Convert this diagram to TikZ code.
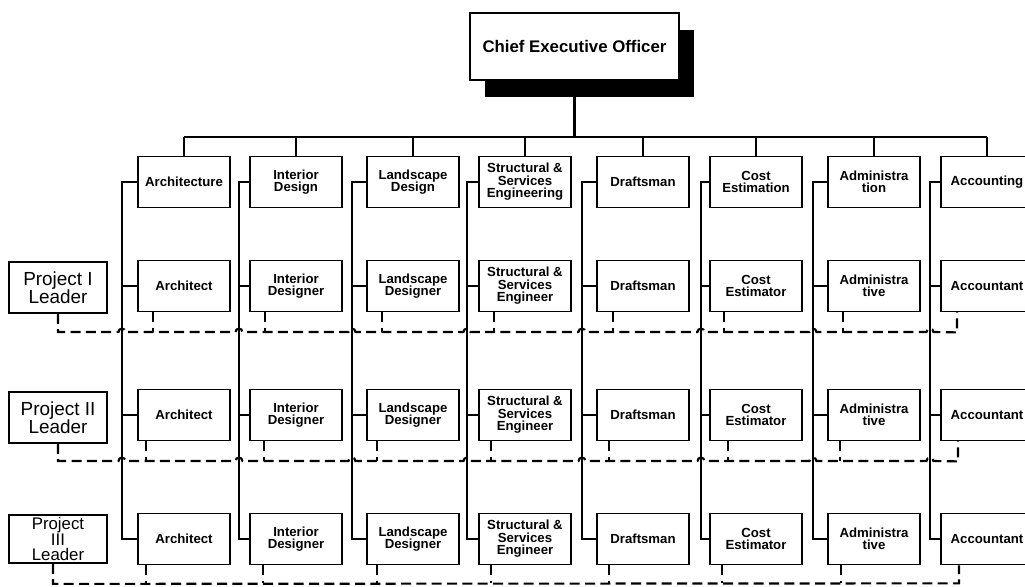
\documentclass[tikz,border=0pt]{standalone}
\usepackage{fontspec}
\setmainfont{Liberation Sans}
\usetikzlibrary{calc,shadows}
\newcommand\tightlines{\lineskiplimit=-100pt\relax}
\newcommand\boxfont{\fontsize{9.9}{9.4}\selectfont\bfseries\tightlines}
\newcommand\leadfont{\fontsize{14.2}{13.6}\selectfont\tightlines}
\newcommand\leadfontc{\fontsize{12.6}{11.4}\selectfont\tightlines}
\begin{document}
\begin{tikzpicture}[x=0.75pt,y=-0.75pt,
  box/.style={draw, line width=1.3pt, fill=white, minimum width=69pt, minimum height=38.25pt,
    inner sep=1pt, align=center, font=\boxfont},
  lead/.style={box, minimum width=73.5pt, font=\leadfont},
  conn/.style={line width=1.7pt},
  dashline/.style={line width=1.6pt, dash pattern=on 7.5pt off 4pt}
]
\useasboundingbox (0,0) rectangle (1025,586);

% CEO
\node[box, minimum width=156.75pt, minimum height=50.25pt,
      font=\fontsize{12.6}{15}\selectfont\bfseries,
      drop shadow={fill=black, opacity=1, shadow xshift=11.5pt, shadow yshift=-12.5pt}]
      (ceo) at (574.5,46.5) {Chief Executive Officer};

% department boxes
\foreach \i/\x/\t in {1/184/Architecture, 2/296/{Interior\\Design}, 3/413/{Landscape\\Design},
    4/525/{Structural \&\\Services\\Engineering}, 5/643/Draftsman, 6/756/{Cost\\Estimation},
    7/874/{Administra\\tion}, 8/987/Accounting}
  \node[box] (D\i) at (\x,182) {\t};

% project staff boxes
\foreach \r/\y in {A/286,B/415,C/539}{
  \foreach \i/\x/\t in {1/184/Architect, 2/296/{Interior\\Designer}, 3/413/{Landscape\\Designer},
      4/525/{Structural \&\\Services\\Engineer}, 5/643/Draftsman, 6/756/{Cost\\Estimator},
      7/874/{Administra\\tive}, 8/987/Accountant}
    \node[box] (\r\i) at (\x,\y) {\t};
}

% project leaders
\node[lead] (P1) at (58,287.5) {Project I\\Leader};
\node[lead] (P2) at (58,417.5) {Project II\\Leader};
\node[lead, minimum height=36pt, font=\leadfontc] (P3) at (58,539) {Project\\III\\Leader};

% bus from CEO
\coordinate (bus) at (0,137);
\draw[conn] (ceo.south) -- (ceo.south |- bus);
\draw[conn] (D1.north |- bus) -- (D8.north |- bus);
\foreach \i in {1,...,8} \draw[conn] (D\i.north) -- (D\i.north |- bus);

% column lines
\foreach \i/\c in {1/122,2/239,3/352,4/467,5/582,6/701,7/813,8/930}{
  \coordinate (c\i) at (\c,0);
  \draw[conn] (D\i.west) -- (D\i.west -| c\i) -- (C\i.west -| c\i) -- (C\i.west);
  \draw[conn] (A\i.west) -- (A\i.west -| c\i);
  \draw[conn] (B\i.west) -- (B\i.west -| c\i);
}

% dashed project links
\coordinate (yA) at (0,332);
\coordinate (yB) at (0,461);
\coordinate (yC) at (0,583);

\draw[dashline] (P1.south) -- (P1.south |- yA)
  \foreach \i in {1,...,8} { -- ($(c\i |- yA)+(-3.5,0)$) arc[start angle=180,end angle=0,radius=2.6pt] }
  -- ($(A8.south)+(-30,20)$) -- ($(A8.south)+(-30,0)$);
\foreach \i/\d in {1/-31,2/-31,3/-31,4/-31,5/-30,6/-32,7/-31}
  \draw[dashline] (A\i.south) ++(\d,0) -- ++(0,20);

\draw[dashline] (P2.south) -- (P2.south |- yB)
  \foreach \i in {1,...,8} { -- ($(c\i |- yB)+(-3.5,0)$) arc[start angle=180,end angle=0,radius=2.6pt] }
  -- ($(B8.south)+(-29,20)$) -- ($(B8.south)+(-29,0)$);
\foreach \i/\d in {1/-38,2/-32,3/-36,4/-34,5/-34,6/-28,7/-34}
  \draw[dashline] (B\i.south) ++(\d,0) -- ++(0,20);

\draw[dashline] ($(P3.south)+(-5,0)$) -- ($(P3.south)+(-5,20)$)
  -- ($(C8.south)+(-28,18)$) -- ($(C8.south)+(-28,0)$);
\foreach \i/\d in {1/-38,2/-33,3/-36,4/-34,5/-34,6/-34,7/-33}
  \draw[dashline] (C\i.south) ++(\d,0) -- ++(0,18);
\end{tikzpicture}
\end{document}
